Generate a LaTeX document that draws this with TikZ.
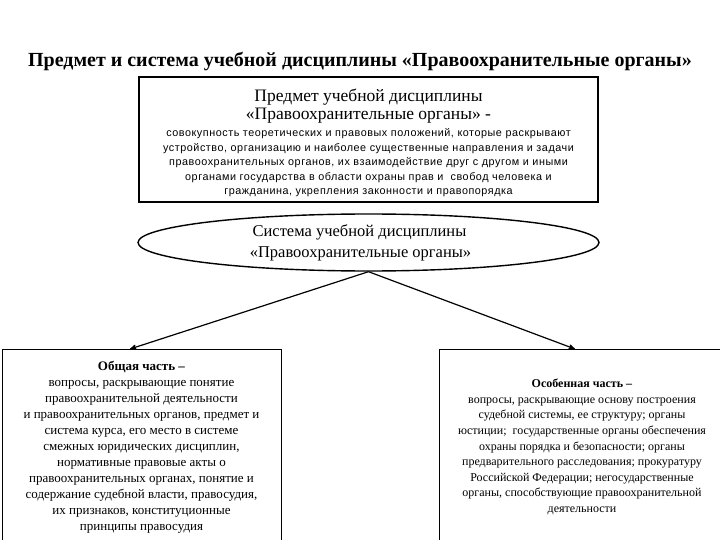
\documentclass[tikz,border=0pt]{standalone}
\usepackage{fontspec}
\setmainfont{Liberation Serif}
\setsansfont{Liberation Sans}
\newfontfamily\bodyface{Liberation Sans}[LetterSpace=5]
\usetikzlibrary{shapes.geometric}
\usetikzlibrary{arrows}
\definecolor{line_black}{RGB}{0,0,0}

\begin{document}
\begin{tikzpicture}[x=1pt,y=-1pt,>=stealth',semithick]
    \tikzstyle{head}=[font=\bfseries\fontsize{20}{24}\selectfont,text=black]
    \tikzstyle{subject}=[draw=line_black, line width=2pt, rectangle, minimum width=459pt, minimum height=125pt, inner sep=0pt]
    \tikzstyle{system}=[draw=line_black, line width=1.4pt, ellipse, minimum width=461pt, minimum height=57pt, inner sep=0pt, align=center, font=\fontsize{16.5}{21}\selectfont]
    \tikzstyle{part}=[draw=line_black, line width=0.8pt, rectangle, minimum height=196pt, inner sep=0pt, align=center]
    \useasboundingbox (0,0) rectangle (720,540);
    \clip (0,0) rectangle (720,540);
    \node[head] (title) at (360,62) {Предмет и система учебной дисциплины «Правоохранительные органы»};
    \node[subject] (subj) at (368.5,139.5) {\parbox{455pt}{\centering\vspace*{7pt}
      \fontsize{17.5}{17.5}\selectfont Предмет учебной дисциплины\\
      «Правоохранительные органы» -\par\vspace{3pt}
      \bodyface\fontsize{10.8}{14.5}\selectfont совокупность теоретических и правовых положений, которые раскрывают\\
      устройство, организацию и наиболее существенные направления и задачи\\
      правоохранительных органов, их взаимодействие друг с другом и иными\\
      органами государства в области охраны прав и \ свобод человека и\\
      гражданина, укрепления законности и правопорядка\par}};
    \node[system] (sys) at (368.5,242.5) {Система учебной дисциплины\hspace*{18pt}\\«Правоохранительные органы»\hspace*{16pt}};
    \node[part, minimum width=279pt, font=\fontsize{13}{16}\selectfont] (gen) at (141.5,447) {\textbf{Общая часть –}\\
      вопросы, раскрывающие понятие\\
      правоохранительной деятельности\\
      и правоохранительных органов, предмет и\\
      система курса, его место в системе\\
      смежных юридических дисциплин,\\
      нормативные правовые акты о\\
      правоохранительных органах, понятие и\\
      содержание судебной власти, правосудия,\\
      их признаков, конституционные\\
      принципы правосудия};
    \node[part, minimum width=286pt, font=\fontsize{12}{15.6}\selectfont] (spec) at (582,447) {\textbf{Особенная часть –}\\
      вопросы, раскрывающие основу построения\\
      судебной системы, ее структуру; органы\\
      юстиции; \ государственные органы обеспечения\\
      охраны порядка и безопасности; органы\\
      предварительного расследования; прокуратуру\\
      Российской Федерации; негосударственные\\
      органы, способствующие правоохранительной\\
      деятельности};
    \coordinate (gtop) at (130,349);
    \coordinate (stop) at (575,349);

    \path[->,line width=1.2pt]
     (sys.south) edge (gtop)
     (sys.south) edge (stop);
\end{tikzpicture}
\end{document}
